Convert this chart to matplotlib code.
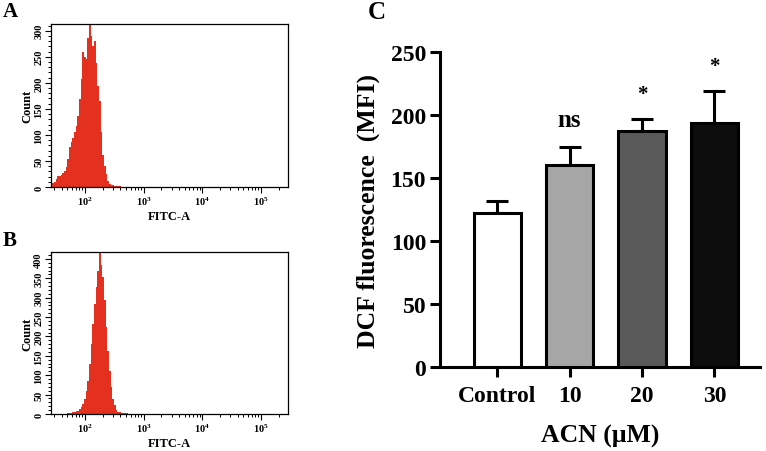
import matplotlib
matplotlib.use("Agg")
import matplotlib.pyplot as plt
import numpy as np
from matplotlib.ticker import FixedLocator, LogLocator, MultipleLocator, NullFormatter

plt.rcParams["font.family"] = ["Liberation Serif", "DejaVu Serif"]
plt.rcParams["font.weight"] = "bold"
plt.rcParams["axes.labelweight"] = "bold"
plt.rcParams["mathtext.fontset"] = "custom"
plt.rcParams["mathtext.rm"] = "Liberation Serif:bold"
plt.rcParams["mathtext.bf"] = "Liberation Serif:bold"
plt.rcParams["mathtext.it"] = "Liberation Serif:bold"

# flow cytometry histograms: FITC-A channel value and event counts
fitc_a = [26.7, 28.5, 30.4, 32.5, 34.7, 37.0, 39.5, 42.2, 45.0, 48.1,
          51.3, 54.8, 58.5, 62.5, 66.7, 71.2, 76.0, 81.1, 86.6, 92.5,
          98.7, 105.4, 112.5, 120.1, 128.2, 136.9, 146.1, 156.0, 166.5, 177.8,
          189.8, 202.6, 216.3, 230.9, 246.5, 263.2, 280.9, 299.9, 320.2, 341.8,
          364.9, 389.6, 415.9, 444.0, 480, 520, 560, 610, 660, 710]
count_a = [34, 8, 10, 16, 22, 22, 23, 27, 31, 38,
           54, 77, 86, 95, 105, 118, 137, 169, 207, 259,
           250, 245, 286, 312, 290, 271, 281, 239, 194, 165,
           105, 62, 40, 25, 12, 6, 4, 3, 2, 1,
           1, 1, 0, 0, 0, 0, 0, 0, 0, 0]
count_b = [0, 0, 0, 0, 0, 0, 0, 0, 0, 1,
           2, 2, 3, 4, 5, 7, 9, 12, 17, 26,
           39, 60, 86, 129, 181, 232, 284, 327, 370, 415,
           385, 353, 293, 224, 163, 112, 69, 39, 22, 10,
           6, 4, 3, 3, 2, 2, 1, 1, 1, 0]
decades = [1e2, 1e3, 1e4, 1e5]
decade_labels = [r"$\mathbf{10^{2}}$", r"$\mathbf{10^{3}}$", r"$\mathbf{10^{4}}$", r"$\mathbf{10^{5}}$"]

# panel C: DCF fluorescence
groups = ["Control", "10", "20", "30"]
dcf_mfi = [122, 160.5, 187, 194]
dcf_sd = [9.5, 14.5, 9.5, 25]
marks = ["", "ns", "*", "*"]
mark_y = [0, 191.5, 213, 235]
bar_colors = ["white", "#a6a6a6", "#595959", "#0d0d0d"]

RED = "#e4311f"
W, H = 766, 452


def rect(left, top, right, bottom):
    return [left / W, 1 - bottom / H, (right - left) / W, (bottom - top) / H]


def draw_hist(ax, counts, ymax):
    ax.fill_between(fitc_a, counts, step="mid", color=RED, linewidth=0)
    ax.set_xscale("log")
    ax.set_xlim(26.3, 2.87e5)
    ax.set_ylim(0, ymax)
    ax.xaxis.set_major_locator(FixedLocator(decades))
    ax.set_xticklabels(decade_labels)
    ax.xaxis.set_minor_locator(LogLocator(base=10, subs=np.arange(2, 10), numticks=30))
    ax.xaxis.set_minor_formatter(NullFormatter())
    ax.yaxis.set_major_locator(MultipleLocator(50))
    ax.yaxis.set_minor_locator(MultipleLocator(10))
    ax.tick_params(which="major", length=4, width=0.8, labelsize=7.5, pad=1.5)
    ax.tick_params(which="minor", length=2.5, width=0.7)
    ax.tick_params(axis="y", labelrotation=90)
    for lab in ax.get_yticklabels():
        lab.set_va("center")
    for sp in ax.spines.values():
        sp.set_linewidth(0.9)
    ax.set_ylabel("Count", fontsize=9, labelpad=1)
    ax.set_xlabel("FITC-A", fontsize=9, labelpad=2)


fig = plt.figure(figsize=(W / 100, H / 100), dpi=100)

ax_a = fig.add_axes(rect(51, 25, 288, 188))
draw_hist(ax_a, count_a, 313)
ax_b = fig.add_axes(rect(51, 253, 288, 415))
draw_hist(ax_b, count_b, 418)

ax_c = fig.add_axes(rect(440, 53, 760, 368))
x = np.arange(len(groups))
ax_c.errorbar(x, dcf_mfi, yerr=[np.zeros(len(x)), dcf_sd], fmt="none", ecolor="black",
              elinewidth=2.2, capsize=8, capthick=2.2, zorder=2)
ax_c.bar(x, dcf_mfi, width=0.65, color=bar_colors, edgecolor="black", linewidth=2.2, zorder=3)
for xi, m, my in zip(x, marks, mark_y):
    if m == "ns":
        ax_c.text(xi, my, m, ha="center", va="baseline", fontsize=18)
    elif m:
        ax_c.text(xi, my, m, ha="center", va="baseline", fontsize=15)
ax_c.set_xlim(-0.79, 3.63)
ax_c.set_ylim(0, 250)
ax_c.set_xticks(x)
ax_c.set_xticklabels(groups)
ax_c.yaxis.set_major_locator(MultipleLocator(50))
ax_c.spines[["top", "right"]].set_visible(False)
ax_c.spines[["left", "bottom"]].set_linewidth(2.2)
ax_c.tick_params(length=7, width=2.2, labelsize=17, pad=3)
ax_c.tick_params(axis="x", pad=6)
ax_c.set_ylabel("DCF fluorescence  (MFI)", fontsize=18.5, labelpad=8)
ax_c.set_xlabel("ACN (μM)", fontsize=18.5, labelpad=13)

fig.text(3 / W, 1 - 2 / H, "A", fontsize=15, va="top", ha="left")
fig.text(3 / W, 1 - 231 / H, "B", fontsize=15, va="top", ha="left")
fig.text(368 / W, 1 - 1 / H, "C", fontsize=18, va="top", ha="left")

fig.savefig("out.png", dpi=100)
